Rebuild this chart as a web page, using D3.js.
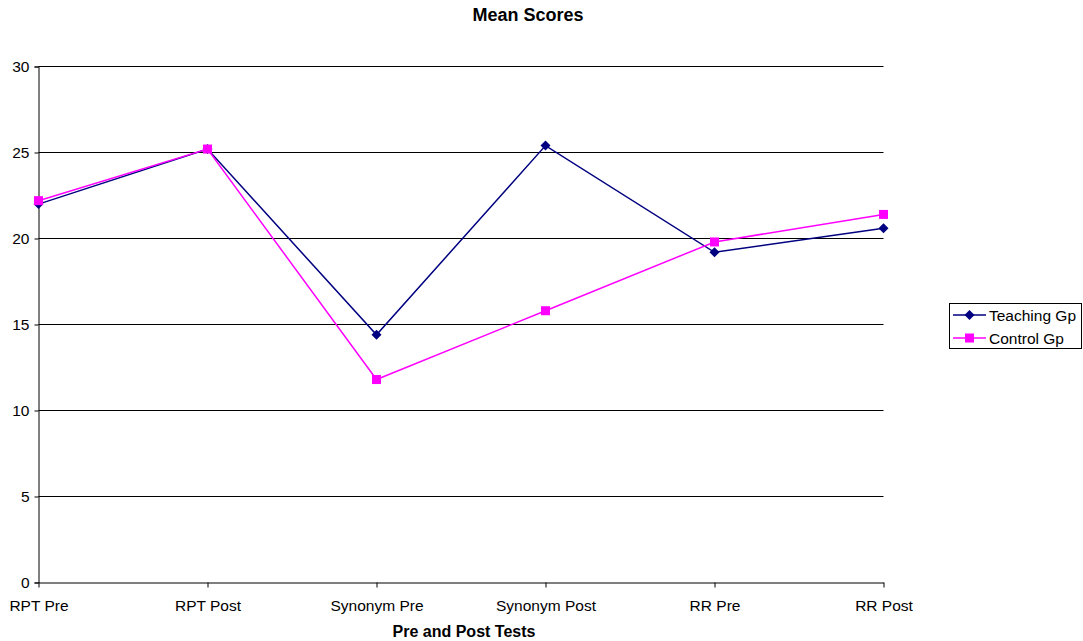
<!DOCTYPE html>
<html>
<head>
<meta charset="utf-8">
<script src="https://cdn.jsdelivr.net/npm/d3@7"></script>
<style>
  html, body { margin: 0; padding: 0; background: #fff; }
  svg { display: block; font-family: "Liberation Sans", Arial, sans-serif; }
</style>
</head>
<body>
<svg id="chart" width="1083" height="641"></svg>
<script>
// Test categories along the x axis
const categories = ["RPT Pre", "RPT Post", "Synonym Pre", "Synonym Post", "RR Pre", "RR Post"];
// Mean scores per group
const teachingGp = [22.0, 25.2, 14.4, 25.4, 19.2, 20.6];
const controlGp = [22.2, 25.2, 11.8, 15.8, 19.8, 21.4];
const seriesNames = ["Teaching Gp", "Control Gp"];
const yTicks = [0, 5, 10, 15, 20, 25, 30];

const svg = d3.select("#chart");
const plot = { left: 38.5, right: 883.5, top: 66.5, bottom: 582.5 };
const FONT = "Liberation Sans, Arial, sans-serif";

const x = d3.scalePoint().domain(categories).range([plot.left, plot.right]).padding(0);
const y = d3.scaleLinear().domain([0, 30]).range([plot.bottom, plot.top]);

// Horizontal gridlines
svg.append("g")
  .selectAll("line")
  .data(yTicks.filter(d => d > 0))
  .join("line")
  .attr("x1", plot.left).attr("x2", plot.right)
  .attr("y1", d => y(d)).attr("y2", d => y(d))
  .attr("stroke", "#000").attr("stroke-width", 1);

// Y axis
const yAxis = svg.append("g")
  .attr("transform", `translate(${plot.left},0)`)
  .call(d3.axisLeft(y).tickValues(yTicks).tickSize(4).tickPadding(5).tickFormat(d3.format("d")));
yAxis.select(".domain").attr("stroke", "#000");
yAxis.selectAll(".tick line").attr("stroke", "#000");
yAxis.selectAll(".tick text").attr("font-size", 15.5).attr("fill", "#000")
  .attr("font-family", FONT);

// X axis
const xAxis = svg.append("g")
  .attr("transform", `translate(0,${plot.bottom})`)
  .call(d3.axisBottom(x).tickSize(5).tickSizeOuter(0).tickPadding(12));
xAxis.select(".domain").attr("stroke", "#000");
xAxis.selectAll(".tick line").attr("stroke", "#000");
xAxis.selectAll(".tick text").attr("font-size", 15.5).attr("fill", "#000")
  .attr("font-family", FONT);

// Titles
svg.append("text")
  .attr("x", 528).attr("y", 21)
  .attr("text-anchor", "middle")
  .attr("font-size", 18).attr("font-weight", "bold")
  .text("Mean Scores");

svg.append("text")
  .attr("x", 464).attr("y", 636.5)
  .attr("text-anchor", "middle")
  .attr("font-size", 16).attr("font-weight", "bold")
  .text("Pre and Post Tests");

const line = d3.line().x((d, i) => x(categories[i])).y(d => y(d));

const series = [
  { name: seriesNames[0], values: teachingGp, color: "#000080", marker: "diamond" },
  { name: seriesNames[1], values: controlGp, color: "#FF00FF", marker: "square" }
];

function drawMarker(g, type, color, cx, cy) {
  if (type === "diamond") {
    g.append("path")
      .attr("d", `M${cx},${cy - 5}L${cx + 5},${cy}L${cx},${cy + 5}L${cx - 5},${cy}Z`)
      .attr("fill", color);
  } else {
    g.append("rect")
      .attr("x", cx - 4.5).attr("y", cy - 4.5)
      .attr("width", 9).attr("height", 9)
      .attr("fill", color);
  }
}

series.forEach(s => {
  svg.append("path")
    .datum(s.values)
    .attr("d", line)
    .attr("fill", "none")
    .attr("stroke", s.color)
    .attr("stroke-width", 1.5);
  const mg = svg.append("g");
  s.values.forEach((v, i) => drawMarker(mg, s.marker, s.color, x(categories[i]), y(v)));
});

// Legend
const legend = svg.append("g");
legend.append("rect")
  .attr("x", 949.5).attr("y", 303.5)
  .attr("width", 132).attr("height", 45)
  .attr("fill", "#fff").attr("stroke", "#000");
series.forEach((s, i) => {
  const ly = 315 + i * 23;
  legend.append("line")
    .attr("x1", 953).attr("x2", 986)
    .attr("y1", ly).attr("y2", ly)
    .attr("stroke", s.color).attr("stroke-width", 1.5);
  drawMarker(legend, s.marker, s.color, 969.5, ly);
  legend.append("text")
    .attr("x", 989).attr("y", ly + 5.5)
    .attr("font-size", 15.5)
    .text(s.name);
});
</script>
</body>
</html>
